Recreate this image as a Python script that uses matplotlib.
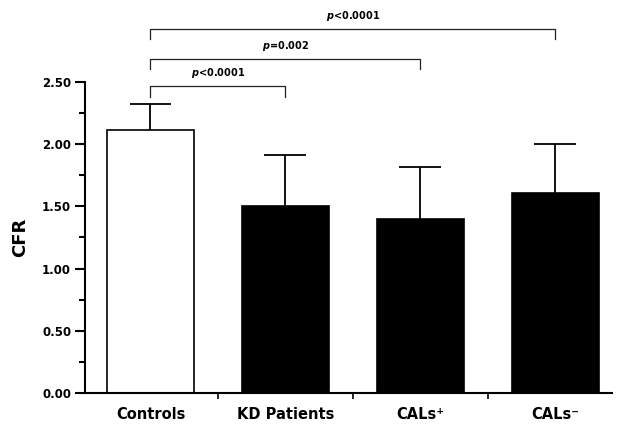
import matplotlib
matplotlib.use("Agg")
import matplotlib.pyplot as plt
import numpy as np

# Data.
groups = ["Controls", "KD Patients", "CALs\u207a", "CALs\u207b"]
cfr_mean = [2.115, 1.50, 1.40, 1.605]
cfr_sd = [0.21, 0.415, 0.42, 0.395]
bar_colors = ["white", "black", "black", "black"]

# Significance brackets: (group a, group b, label).
comparisons = [
    (0, 1, "<0.0001"),
    (0, 2, "=0.002"),
    (0, 3, "<0.0001"),
]
bracket_y = [2.47, 2.69, 2.93]

plt.rcParams["font.family"] = "DejaVu Sans"
plt.rcParams["font.weight"] = "bold"

fig = plt.figure(figsize=(6.21, 4.26), dpi=100)
ax = fig.add_axes([0.1369, 0.0782, 0.8486, 0.7286])

x = np.arange(len(groups))
ax.bar(x, cfr_mean, width=0.64, color=bar_colors, edgecolor="black",
       linewidth=1.2, zorder=2)

# Upper error bars only.
tops = np.array(cfr_mean) + np.array(cfr_sd)
ax.vlines(x, cfr_mean, tops, color="black", linewidth=1.3, zorder=3)
ax.hlines(tops, x - 0.155, x + 0.155, color="black", linewidth=1.3, zorder=3)

# Brackets with p values.
for (a, b, label), yb in zip(comparisons, bracket_y):
    ax.plot([a, a, b, b], [yb - 0.085, yb, yb, yb - 0.085], color="#222222",
            linewidth=0.9, clip_on=False)
    ax.text((a + b) / 2, yb + 0.045, r"$\mathbfit{p}$" + label, ha="center",
            va="bottom", fontsize=7, fontweight="bold")

ax.set_xlim(-0.485, 3.42)
ax.set_ylim(0, 2.5)

ax.set_yticks(np.arange(0, 2.51, 0.5))
ax.set_yticklabels(["%.2f" % v for v in np.arange(0, 2.51, 0.5)],
                   fontsize=8.5, fontweight="bold")
ax.set_yticks(np.arange(0.25, 2.5, 0.5), minor=True)
ax.tick_params(axis="y", which="major", length=7, width=1.5, pad=3)
ax.tick_params(axis="y", which="minor", length=4, width=1.5)

ax.set_xticks(x)
ax.set_xticklabels(groups, fontsize=10.5, fontweight="bold")
ax.set_xticks([0.5, 1.5, 2.5], minor=True)
ax.tick_params(axis="x", which="major", length=0, pad=10)
ax.tick_params(axis="x", which="minor", length=4, width=1.2)

ax.set_ylabel("CFR", fontsize=13, fontweight="bold", labelpad=9)

for side in ["top", "right"]:
    ax.spines[side].set_visible(False)
for side in ["left", "bottom"]:
    ax.spines[side].set_linewidth(1.5)

fig.savefig("out.png", dpi=100)
